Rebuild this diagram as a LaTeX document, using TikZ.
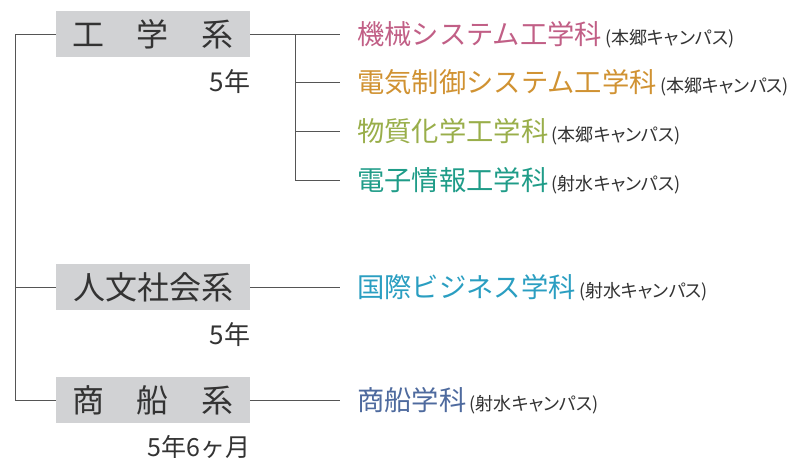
\documentclass[tikz,border=0pt]{standalone}
\usepackage{fontspec}
\newfontfamily\jp{Noto Sans CJK JP}
\newfontfamily\jpp[RawFeature=+palt]{Noto Sans CJK JP}
\usetikzlibrary{positioning}

\definecolor{cajagris}{HTML}{D1D2D4}
\definecolor{texto}{HTML}{333333}
\definecolor{lineagris}{HTML}{555555}
\definecolor{mecanica}{HTML}{C15F86}
\definecolor{electrica}{HTML}{D09232}
\definecolor{quimica}{HTML}{99AE4A}
\definecolor{electronica}{HTML}{1F9C88}
\definecolor{negocios}{HTML}{2A9EC1}
\definecolor{nautica}{HTML}{4E6A9E}

\tikzset{
  caja/.style={fill=cajagris, text=texto, inner sep=0pt, minimum width=194pt, minimum height=46pt, font=\jp\fontsize{32}{32}\selectfont},
  gakka/.style={anchor=west, inner sep=0pt, font=\jp\fontsize{27.3}{28}\selectfont},
  campus/.style={anchor=base west, inner sep=0pt, xshift=3pt, text=texto, font=\jpp\fontsize{18}{18}\selectfont},
  anio/.style={inner sep=0pt, text=texto, font=\jp\fontsize{26}{26}\selectfont},
  linea/.style={draw=lineagris, line width=1pt}
}

\begin{document}
\begin{tikzpicture}[x=1pt, y=-1pt]
    \useasboundingbox (0,0) rectangle (795,459);

    % Cajas de los sistemas
    \node[caja] (ing) at (153,34) {工\hspace{33pt}学\hspace{33pt}系};
    \node[caja] (hum) at (153,287) {人文社会系};
    \node[caja] (nav) at (153,400) {商\hspace{33pt}船\hspace{33pt}系};

    % Duracion
    \node[anio, below left=12pt and 0pt of ing.south east] (a1) {5年};
    \node[anio, below left=12pt and 0pt of hum.south east] (a2) {5年};
    \node[anio, below left=12pt and 0pt of nav.south east, font=\jp\fontsize{25}{25}\selectfont] (a3) {5年6ヶ月};

    % Departamentos
    \node[gakka, text=mecanica] (d1) at (357,34) {機械システム工学科};
    \node[gakka, text=electrica] (d2) at (357,82) {電気制御システム工学科};
    \node[gakka, text=quimica] (d3) at (357,131) {物質化学工学科};
    \node[gakka, text=electronica] (d4) at (357,180) {電子情報工学科};
    \node[gakka, text=negocios] (d5) at (357,287) {国際ビジネス学科};
    \node[gakka, text=nautica] (d6) at (357,400) {商船学科};

    % Campus
    \node[campus] (c1) at (d1.base east) {(本郷キャンパス)};
    \node[campus] (c2) at (d2.base east) {(本郷キャンパス)};
    \node[campus] (c3) at (d3.base east) {(本郷キャンパス)};
    \node[campus] (c4) at (d4.base east) {(射水キャンパス)};
    \node[campus] (c5) at (d5.base east) {(射水キャンパス)};
    \node[campus] (c6) at (d6.base east) {(射水キャンパス)};

    % Tronco
    \coordinate (tronco) at (15,34);
    \draw[linea] (ing.west) -- (tronco) |- (nav.west);
    \draw[linea] (tronco |- hum.west) -- (hum.west);

    % Ramas
    \coordinate (rama) at (295,34);
    \draw[linea, shorten >=17pt] (ing.east) -- (d1.west);
    \draw[linea, shorten >=17pt] (rama) |- (d4.west);
    \foreach \d in {d2,d3}
      \draw[linea, shorten >=17pt] (rama |- \d.west) -- (\d.west);
    \draw[linea, shorten >=17pt] (hum.east) -- (d5.west);
    \draw[linea, shorten >=17pt] (nav.east) -- (d6.west);
\end{tikzpicture}
\end{document}
